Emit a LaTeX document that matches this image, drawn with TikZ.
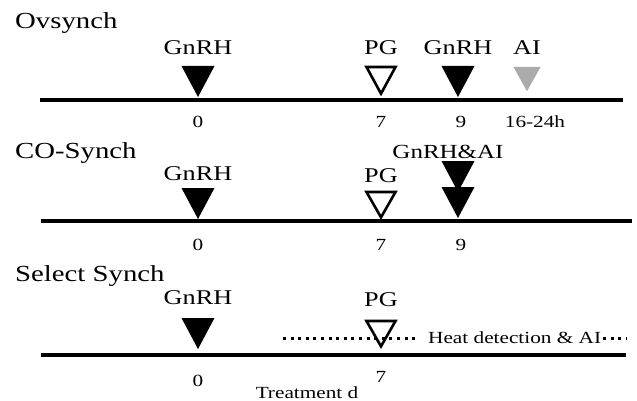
\documentclass[tikz,border=0pt]{standalone}
\usepackage{fontspec}
\setmainfont[FakeStretch=1.25]{Liberation Serif}

\tikzset{
  pulse/.pic={\path[pic actions] (-16.5,0) -- (16.5,0) -- (0,31) -- cycle;},
  title/.style={font=\fontsize{23}{23}\selectfont, anchor=base west, inner sep=0},
  drug/.style={font=\fontsize{21}{21}\selectfont, anchor=base, inner sep=0},
  day/.style={font=\fontsize{17}{17}\selectfont, anchor=base, inner sep=0},
  note/.style={font=\fontsize{17}{17}\selectfont, anchor=base west, inner sep=0},
  axis/.style={line width=4pt},
  dots/.style={line width=3pt, dash pattern=on 3pt off 4.6pt},
  gnrh/.style={fill=black},
  pg/.style={draw=black, line width=2.6pt, xscale=0.88, yscale=0.86},
  ai/.style={fill=black!33, xscale=0.82, yscale=0.78}
}

\begin{document}
\begin{tikzpicture}[x=1pt,y=-1pt]
\useasboundingbox (0,0) rectangle (637,401);
\clip (0,0) rectangle (637,401);

% Ovsynch
\node[title] (ov) at (15,29) {Ovsynch};
\coordinate (ov-s) at (40,100);
\coordinate (ov-e) at (623,100);
\draw[axis] (ov-s) -- (ov-e);
\node[drug] (ov-g1) at (198,55) {GnRH};
\node[drug] (ov-pg) at (381,55) {PG};
\node[drug] (ov-g2) at (458,55) {GnRH};
\node[drug] (ov-ai) at (527,55) {AI};
\pic[gnrh] at (198,66) {pulse};
\pic[pg] at (381,67) {pulse};
\pic[gnrh] at (458,66) {pulse};
\pic[ai] at (527,67) {pulse};
\node[day] (ov-d0) at (198,128) {0};
\node[day] (ov-d7) at (381,128) {7};
\node[day] (ov-d9) at (461,128) {9};
\node[day] (ov-dh) at (535,128) {16-24h};

% CO-Synch
\node[title] (co) at (15,158) {CO-Synch};
\coordinate (co-s) at (41,221);
\coordinate (co-e) at (632,221);
\draw[axis] (co-s) -- (co-e);
\node[drug] (co-g1) at (198,180) {GnRH};
\node[drug] (co-pg) at (381,182) {PG};
\node[drug, font=\fontsize{20}{20}\selectfont] (co-g2) at (448,158) {GnRH\&AI};
\pic[gnrh] at (198,188) {pulse};
\pic[pg, yscale=0.95] at (381,192) {pulse};
\pic[gnrh] at (458,161) {pulse};
\pic[gnrh] at (458,187) {pulse};
\node[day] (co-d0) at (198,250) {0};
\node[day] (co-d7) at (381,250) {7};
\node[day] (co-d9) at (461,250) {9};

% Select Synch
\node[title] (ss) at (15,281) {Select Synch};
\coordinate (ss-s) at (41,355);
\coordinate (ss-e) at (626,355);
\draw[axis] (ss-s) -- (ss-e);
\node[drug] (ss-g1) at (198,304) {GnRH};
\node[drug] (ss-pg) at (381,306) {PG};
\pic[gnrh] at (198,318) {pulse};
\node[note] (heat) at (428,343) {Heat detection \& AI};
\coordinate (hd-s) at (283,338);
\coordinate (hd-e) at (627,338);
\draw[dots] (hd-s) -- ([xshift=-13pt]heat.west |- hd-s);
\draw[dots] (heat.east |- hd-e) ++(2,0) -- (hd-e);
\pic[pg, yscale=0.95] at (381,321) {pulse};
\node[day] (ss-d0) at (198,386) {0};
\node[day] (ss-d7) at (381,382) {7};
\node[day] (tr) at (307,398) {Treatment d};
\end{tikzpicture}
\end{document}
